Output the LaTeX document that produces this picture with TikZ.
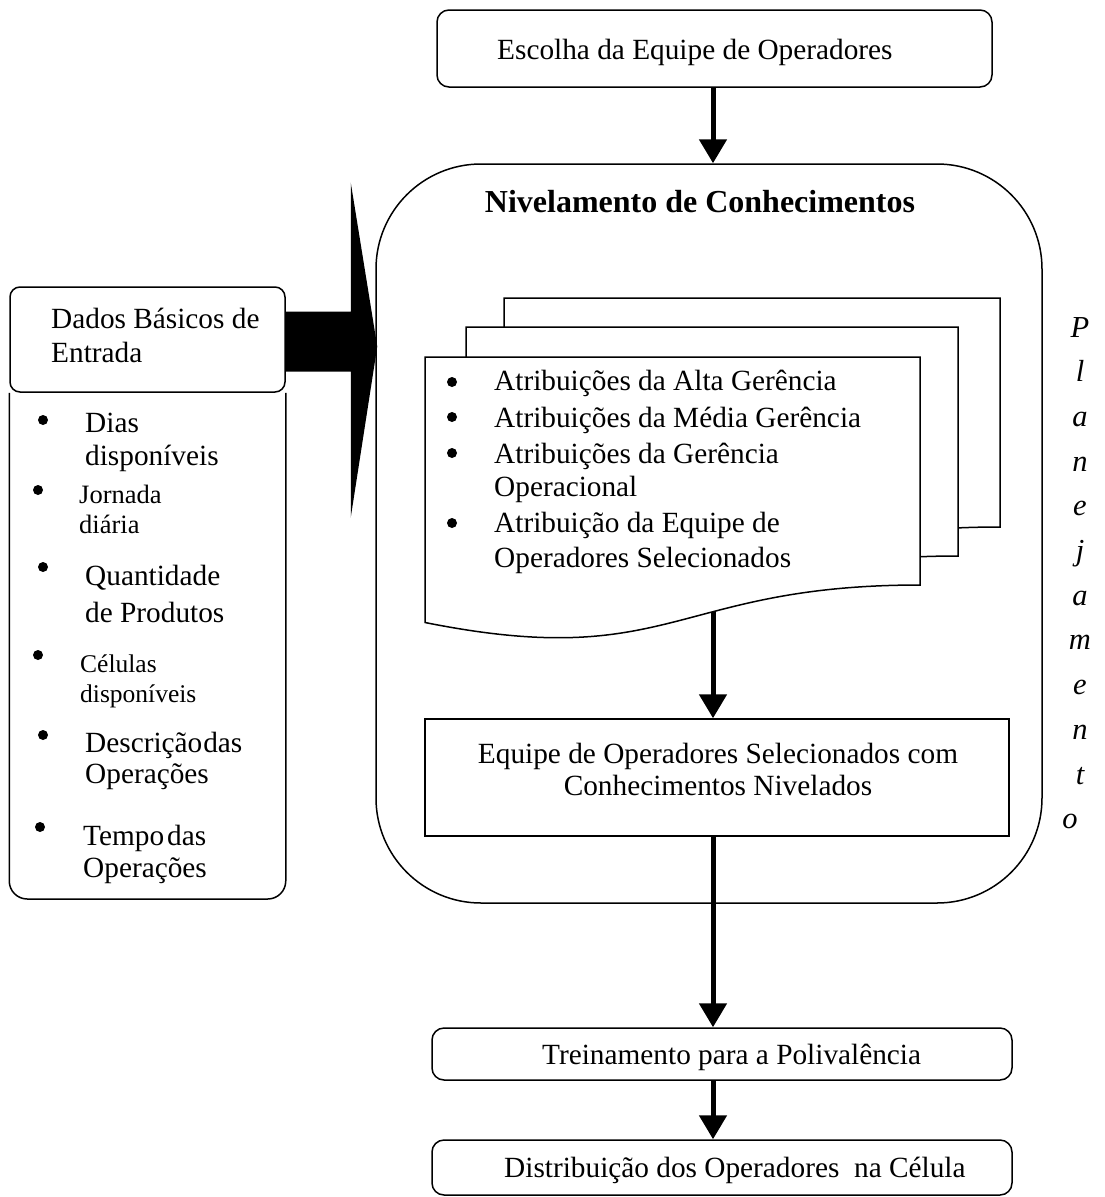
\documentclass[tikz,border=0pt]{standalone}
\usepackage{fontspec}
\setmainfont{Liberation Serif}
\usetikzlibrary{arrows.meta,calc}
\begin{document}
\begin{tikzpicture}[x=1pt,y=-1pt,
  outline/.style={draw=black,line width=1.5pt},
  rbox/.style={outline,rounded corners=12pt,inner sep=0pt},
  sbox/.style={outline,inner sep=0pt},
  flow/.style={line width=5pt,-{Triangle[length=24pt,width=27pt]}},
  txt/.style={inner sep=0pt,anchor=base west,font=\fontsize{29.3}{35}\selectfont},
  ctxt/.style={inner sep=0pt,anchor=base,font=\fontsize{29.3}{35}\selectfont},
  smalltxt/.style={inner sep=0pt,anchor=base west,font=\fontsize{26.5}{32}\selectfont},
  tinytxt/.style={inner sep=0pt,anchor=base west,font=\fontsize{25.5}{30}\selectfont},
  ital/.style={inner sep=0pt,anchor=base,font=\fontsize{30.5}{35}\selectfont\itshape},
  dot/.style={circle,fill=black,inner sep=0pt,minimum size=10pt},
]
\useasboundingbox (0,0) rectangle (1104,1197);

% main boxes
\node[rbox,minimum width=555pt,minimum height=77pt] (escolha) at (714.5,48.5) {};
\node[txt] (escolhaT) at (497,59) {Escolha da Equipe de Operadores};

\node[outline,rounded corners=105pt,minimum width=666pt,minimum height=739pt,inner sep=0pt] (nivel) at (709,533.5) {};
\node[ctxt,font=\fontsize{32}{38}\selectfont\bfseries] (nivelT) at (700,212) {Nivelamento de Conhecimentos};

% stacked documents
\draw[outline,fill=white] (504,298) -- (1000,298) -- (1000,527) .. controls (752,527) and (752,614.2) .. (504,564.7) -- cycle;
\draw[outline,fill=white] (466,327) -- (958,327) -- (958,556) .. controls (712,556) and (712,643.2) .. (466,593.6) -- cycle;
\draw[outline,fill=white] (425,357) -- (920,357) -- (920,585) .. controls (672.5,585) and (672.5,672) .. (425,622.5) -- cycle;

\node[dot] (b1) at (452,382) {};
\node[dot] (b2) at (452,417) {};
\node[dot] (b3) at (452,453) {};
\node[dot] (b4) at (452,523) {};
\node[txt] (d1) at (494,390) {Atribuições da Alta Gerência};
\node[txt] (d2) at (494,427) {Atribuições da Média Gerência};
\node[txt] (d3) at (494,463) {Atribuições da Gerência};
\node[txt] (d4) at (494,496) {Operacional};
\node[txt] (d5) at (494,532) {Atribuição da Equipe de};
\node[txt] (d6) at (494,567) {Operadores Selecionados};
\coordinate (docb) at (713,612);

\node[sbox,minimum width=584pt,minimum height=117pt] (equipe) at (717,777.5) {};
\node[ctxt] (eq1) at (718,763) {Equipe de Operadores Selecionados com};
\node[ctxt] (eq2) at (718,795) {Conhecimentos Nivelados};

\node[rbox,minimum width=580pt,minimum height=52pt] (trein) at (722,1054) {};
\node[txt] (treinT) at (542,1064) {Treinamento para a Polivalência};

\node[rbox,minimum width=580pt,minimum height=55pt] (dist) at (722,1167.5) {};
\node[txt] (distT) at (504,1177) {Distribuição dos Operadores \ na Célula};

% vertical label
\foreach \ch [count=\i from 0] in {P,l,a,n,e,j,a,m,e,n,t}
  \node[ital] (pl\i) at (1080,{337+44.7*\i}) {\ch};
\node[ital] (pl11) at (1070,{337+44.7*11}) {o};

% input data box
\node[rbox,rounded corners=10pt,minimum width=275pt,minimum height=105pt] (dados) at (147.5,339.5) {};
\draw[outline,rounded corners=18pt] (dados.south west) -- (dados.south west |- 0,899) -- (dados.south east |- 0,899) -- (dados.south east);
\node[txt] (dd1) at (51,328) {Dados Básicos de};
\node[txt] (dd2) at (51,362) {Entrada};

\node[dot] (c1) at (43,420) {};
\node[txt] (i1a) at (85,432) {Dias};
\node[txt] (i1b) at (85,465) {disponíveis};
\node[dot] (c2) at (38,490) {};
\node[smalltxt] (i2a) at (79,503) {Jornada};
\node[smalltxt] (i2b) at (79,533) {diária};
\node[dot] (c3) at (43,567) {};
\node[txt] (i3a) at (85,585) {Quantidade};
\node[txt] (i3b) at (85,622) {de Produtos};
\node[dot] (c4) at (38,655) {};
\node[tinytxt] (i4a) at (80,672) {Células};
\node[tinytxt] (i4b) at (80,702) {disponíveis};
\node[dot] (c5) at (43,735) {};
\node[txt] (i5a) at (85,752) {Descrição\hspace{1pt}das};
\node[txt] (i5b) at (85,783) {Operações};
\node[dot] (c6) at (40,827) {};
\node[txt] (i6a) at (83,845) {Tempo\hspace{3pt}das};
\node[txt] (i6b) at (83,877) {Operações};

% block arrow from input data into the levelling stage
\fill ($(dados.east)+(0,-28)$) -- ($(dados.east)+(65,-28)$) -- ($(dados.east)+(65,-157)$)
  -- ($(dados.east -| nivel.west)+(2,7)$) -- ($(dados.east)+(65,178)$)
  -- ($(dados.east)+(65,32)$) -- ($(dados.east)+(0,32)$) -- cycle;

% flow arrows
\draw[flow] (escolha.south -| 713,0) -- (nivel.north -| 713,0);
\draw[flow] (docb) -- (docb |- equipe.north);
\draw[flow] (equipe.south -| 713,0) -- (trein.north -| 713,0);
\draw[flow] (trein.south -| 713,0) -- (dist.north -| 713,0);
\end{tikzpicture}
\end{document}
